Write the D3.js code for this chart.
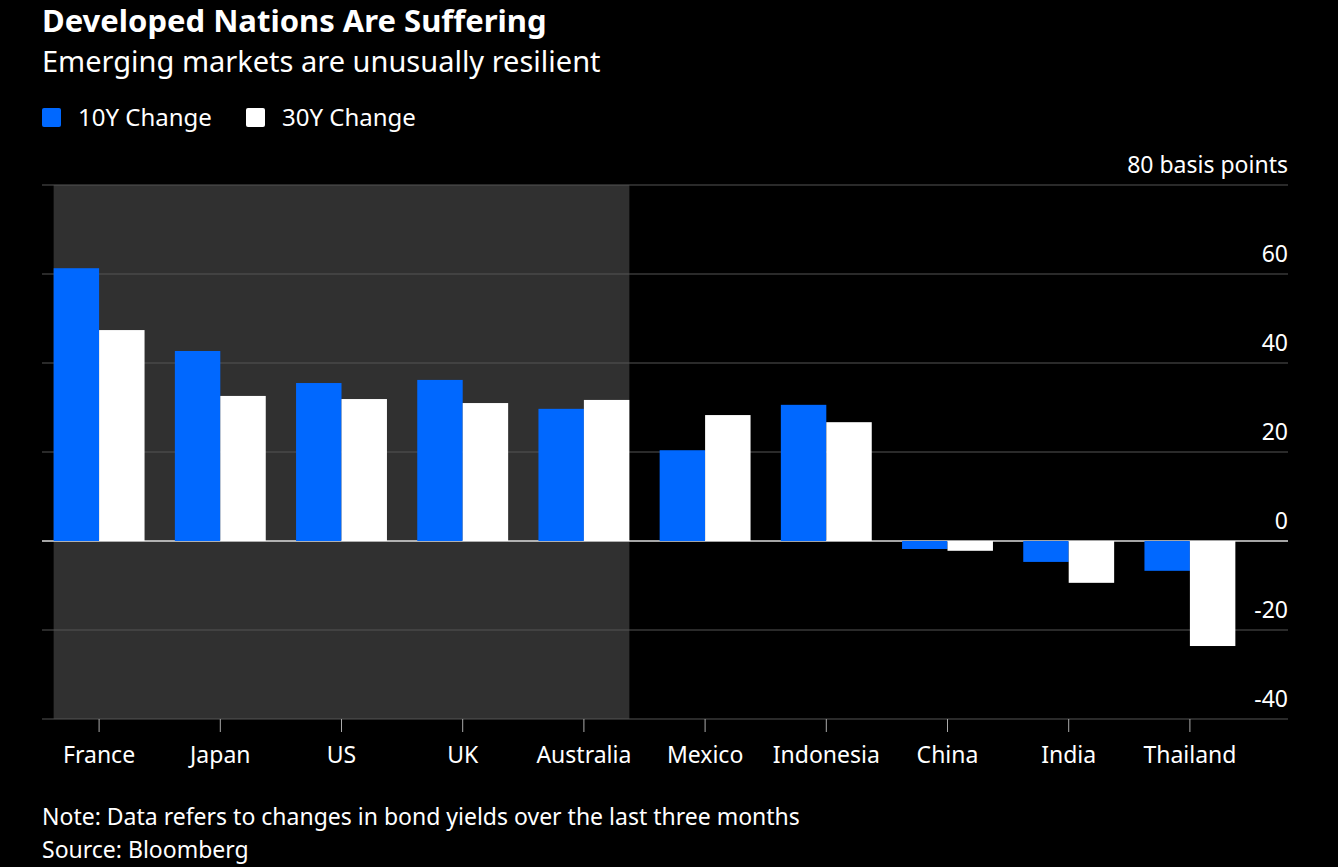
<!DOCTYPE html>
<html><head><meta charset="utf-8">
<script src="https://cdn.jsdelivr.net/npm/d3@7"></script>
<style>body{margin:0;background:#000}svg{font-family:"Noto Sans",sans-serif}</style>
</head><body><svg id="c" width="1338" height="867"></svg>
<script>
const countries = ["France","Japan","US","UK","Australia","Mexico","Indonesia","China","India","Thailand"];
const change10y = [61.3,42.7,35.5,36.2,29.7,20.4,30.6,-1.8,-4.7,-6.7];
const change30y = [47.4,32.6,31.9,31.0,31.7,28.3,26.7,-2.2,-9.4,-23.6];
const yTicks = [-40,-20,0,20,40,60,80];
const developed = ["France","Japan","US","UK","Australia"];

const svg = d3.select("#c");
const x = d3.scaleBand().domain(countries).range([38.5,1250.5]).paddingInner(0.25).paddingOuter(0.125);
const y = d3.scaleLinear().domain([-40,80]).range([719,185]);
const blue = "#0068ff";

// shaded developed region
svg.append("rect")
  .attr("x", x(developed[0])).attr("y", y(80))
  .attr("width", x(developed[developed.length-1]) + x.bandwidth() - x(developed[0]))
  .attr("height", y(-40) - y(80)).attr("fill", "#303030");

// gridlines + labels
yTicks.forEach(t => {
  svg.append("line").attr("x1",42).attr("x2",1288).attr("y1",y(t)).attr("y2",y(t))
    .attr("stroke", t===0 ? "#ddd" : "#555").attr("stroke-width", t===0?1.5:1);
  svg.append("text").attr("x",1288).attr("y",y(t)-12).attr("text-anchor","end")
    .attr("fill","#fff").attr("font-size",23).text(t===80 ? "80 basis points" : t);
});

const half = x.bandwidth()/2;
countries.forEach((c,i) => {
  [[change10y[i],0,blue],[change30y[i],half,"#fff"]].forEach(([v,off,col]) => {
    svg.append("rect").attr("x",x(c)+off).attr("width",half)
      .attr("y",y(Math.max(0,v))).attr("height",Math.abs(y(v)-y(0))).attr("fill",col);
  });
  const cx = x(c)+half;
  svg.append("line").attr("x1",cx).attr("x2",cx).attr("y1",719).attr("y2",732).attr("stroke","#aaa");
  svg.append("text").attr("x",cx).attr("y",763).attr("text-anchor","middle")
    .attr("fill","#fff").attr("font-size",23).text(c);
});

svg.append("text").attr("x",42).attr("y",32).attr("fill","#fff").attr("font-size",31)
  .attr("font-weight","bold").text("Developed Nations Are Suffering");
svg.append("text").attr("x",42).attr("y",72).attr("fill","#fff").attr("font-size",29)
  .text("Emerging markets are unusually resilient");

[["10Y Change",blue,42],["30Y Change","#fff",246]].forEach(([t,col,lx]) => {
  svg.append("rect").attr("x",lx).attr("y",108).attr("width",19).attr("height",19).attr("rx",2).attr("fill",col);
  svg.append("text").attr("x",lx+36).attr("y",126).attr("fill","#fff").attr("font-size",24).text(t);
});

svg.append("text").attr("x",42).attr("y",825).attr("fill","#fff").attr("font-size",23)
  .text("Note: Data refers to changes in bond yields over the last three months");
svg.append("text").attr("x",42).attr("y",858).attr("fill","#fff").attr("font-size",23)
  .text("Source: Bloomberg");
</script></body></html>
